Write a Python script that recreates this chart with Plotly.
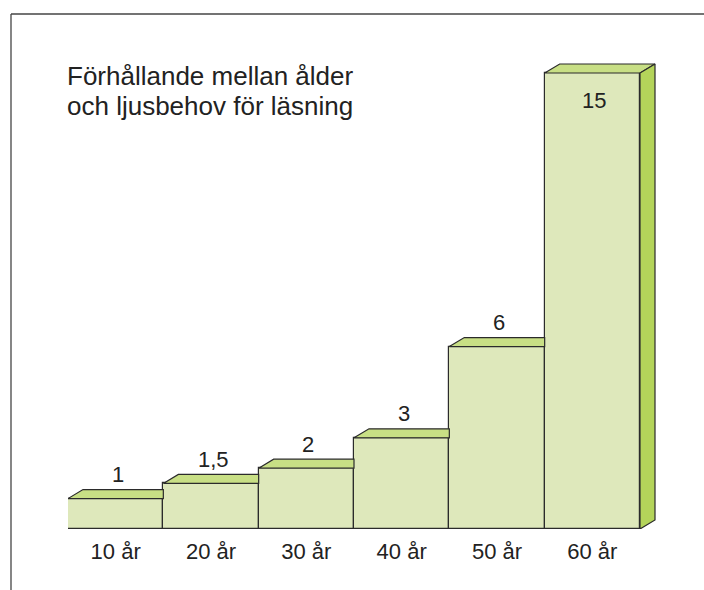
import plotly.graph_objects as go

# ---- data ----
categories = ["10 år", "20 år", "30 år", "40 år", "50 år", "60 år"]
values = [1, 1.5, 2, 3, 6, 15]
value_labels = ["1", "1,5", "2", "3", "6", "15"]
title_lines = ["Förhållande mellan ålder", "och ljusbehov för läsning"]

# ---- style ----
W, H = 704, 590
L, R, T, B = 68, 45, 20, 61
FRONT = "#dee8bb"
TOP = "#c8df85"
SIDE = "#b4d45a"
EDGE = "#2b2b2b"
FONT = "Liberation Sans, Arial, sans-serif"
PX_PER_X = 572 / 6.0
PX_PER_Y = (529 - 73) / 15.0
DX = 15 / PX_PER_X   # depth offset in category units
DY = 9 / PX_PER_Y    # depth offset in value units

plot_w = W - L - R
plot_h = H - T - B
x0 = -0.5
x1 = x0 + plot_w / PX_PER_X
y1 = plot_h / PX_PER_Y

n = len(values)
xs = list(range(n))

fig = go.Figure()
fig.add_trace(go.Bar(
    x=xs, y=values, width=1,
    marker=dict(color=FRONT, line=dict(color=EDGE, width=1.2)),
    hoverinfo="skip", showlegend=False,
))

# top faces
px, py = [], []
for i, v in enumerate(values):
    left = i - 0.5
    right = i + 0.5
    if i < n - 1:
        px += [left, left + DX, right, right, left, None]
    else:
        px += [left, left + DX, right + DX, right, left, None]
    py += [v, v + DY, v + DY, v, v, None]
fig.add_trace(go.Scatter(
    x=px, y=py, mode="lines", fill="toself", fillcolor=TOP,
    line=dict(color=EDGE, width=1.2), hoverinfo="skip", showlegend=False,
))
# side face of last bar
i = n - 1
v = values[i]
right = i + 0.5
fig.add_trace(go.Scatter(
    x=[right, right + DX, right + DX, right, right],
    y=[0, DY, v + DY, v, 0],
    mode="lines", fill="toself", fillcolor=SIDE,
    line=dict(color=EDGE, width=1.2), hoverinfo="skip", showlegend=False,
))

# value labels
vmax = max(values)
for i, (v, t) in enumerate(zip(values, value_labels)):
    fig.add_annotation(
        x=i, y=v, text=t, showarrow=False, xref="x", yref="y",
        yanchor="middle", yshift=(-27 if v == vmax else 24), xshift=2,
        font=dict(family=FONT, size=22, color="#222222"),
    )

# title
def px_to_paper_x(p):
    return (p - L) / plot_w

def px_to_paper_y(p):
    return 1 - (p - T) / plot_h

for k, line in enumerate(title_lines):
    fig.add_annotation(
        x=px_to_paper_x(65), y=px_to_paper_y(76 + 30 * k), xref="paper", yref="paper",
        text=line, showarrow=False, xanchor="left", yanchor="middle",
        font=dict(family=FONT, size=26, color="#222222"),
    )

# frame lines
fig.add_shape(type="line", xref="paper", yref="paper",
              x0=px_to_paper_x(11), x1=px_to_paper_x(704),
              y0=px_to_paper_y(14), y1=px_to_paper_y(14),
              line=dict(color="#444444", width=1.3))
fig.add_shape(type="line", xref="paper", yref="paper",
              x0=px_to_paper_x(11), x1=px_to_paper_x(11),
              y0=px_to_paper_y(14), y1=px_to_paper_y(590),
              line=dict(color="#444444", width=1.3))

fig.update_layout(
    width=W, height=H,
    margin=dict(l=L, r=R, t=T, b=B, pad=0),
    paper_bgcolor="white", plot_bgcolor="white",
    bargap=0,
    xaxis=dict(range=[x0, x1], tickvals=xs, ticktext=categories,
               showgrid=False, zeroline=False, showline=False,
               ticks="outside", ticklen=3, tickcolor="rgba(0,0,0,0)",
               tickfont=dict(family=FONT, size=22, color="#222222"),
               fixedrange=True),
    yaxis=dict(range=[0, y1], visible=False, showgrid=False, zeroline=False,
               fixedrange=True),
    font=dict(family=FONT),
)

fig.write_html("out.html", config={"displayModeBar": False},
               post_script="document.body.style.margin='0';document.body.style.overflow='hidden';")
